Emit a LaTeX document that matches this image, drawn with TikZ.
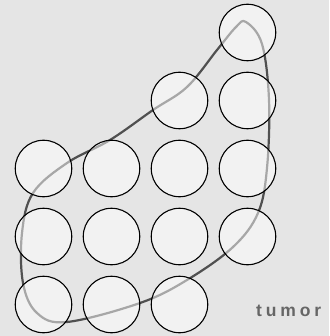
\documentclass[tikz,border=0pt]{standalone}
\usepackage{fontspec}
\setsansfont{Liberation Sans}
\usetikzlibrary{positioning}

\definecolor{paper}{HTML}{E5E5E5}
\definecolor{outline}{HTML}{505050}
\definecolor{labelgray}{HTML}{666666}

\begin{document}
\begin{tikzpicture}[
        x = 1pt, y = -1pt,
        node distance = 68pt,
        on grid,
        cell/.style = {circle, draw = black, line width = 1.1pt, minimum size = 56.5pt,
                       inner sep = 0pt, fill = white, fill opacity = 0.5, draw opacity = 1},
        tumor line/.style = {draw = outline, line width = 2.2pt, line join = round},
        label text/.style = {text = labelgray, inner sep = 0pt,
                             font = \sffamily\bfseries\fontsize{17.5}{19}\selectfont\addfontfeature{LetterSpace=22}}
    ]

        \fill[paper] (0,0) rectangle (329,336);
        \useasboundingbox (0,0) rectangle (329,336);

        % outline of the tumor
        \draw[tumor line] plot[smooth cycle, tension = 0.6] coordinates {
            (246,22) (262,44) (269,100) (267,168) (258,213) (233,247)
            (187,280) (140,303) (67,322) (37,313) (23,283) (22,233)
            (33,193) (67,163) (110,140) (153,110) (187,87) (217,50) (236,27)};

        % grid of cells
        \node[cell] (c14) at (247.5,32.5) {};
        \node[cell] (c24) [below = of c14] {};
        \node[cell] (c23) [left = of c24] {};
        \node[cell] (c34) [below = of c24] {};
        \node[cell] (c33) [left = of c34] {};
        \node[cell] (c32) [left = of c33] {};
        \node[cell] (c31) [left = of c32] {};
        \node[cell] (c44) [below = of c34] {};
        \node[cell] (c43) [left = of c44] {};
        \node[cell] (c42) [left = of c43] {};
        \node[cell] (c41) [left = of c42] {};
        \node[cell] (c51) [below = of c41] {};
        \node[cell] (c52) [right = of c51] {};
        \node[cell] (c53) [right = of c52] {};

        \node[label text, anchor = base west] (tumor) at (256,316) {tumor};

    \end{tikzpicture}
\end{document}
